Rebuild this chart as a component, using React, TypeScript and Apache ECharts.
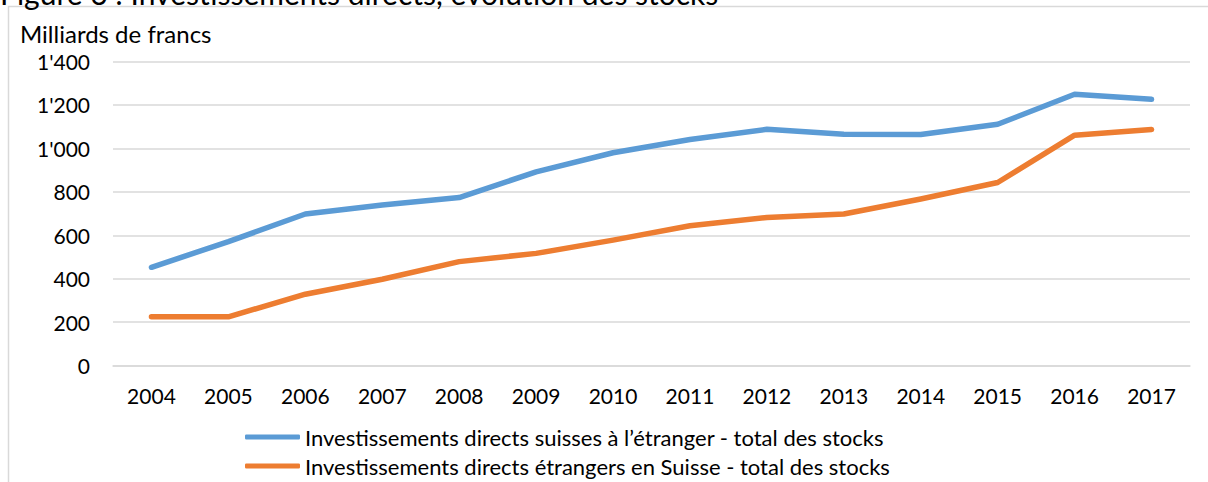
import React, { useEffect, useRef } from "react";
import * as echarts from "echarts";

const years = ["2004", "2005", "2006", "2007", "2008", "2009", "2010", "2011", "2012", "2013", "2014", "2015", "2016", "2017"];
const suissesEtranger = [453, 571, 698, 740, 774, 892, 980, 1041, 1088, 1065, 1064, 1111, 1249, 1226];
const etrangersSuisse = [225, 225, 329, 398, 479, 517, 578, 644, 682, 698, 767, 843, 1061, 1087];
const seriesNames = [
  "Investissements directs suisses à l’étranger - total des stocks",
  "Investissements directs étrangers en Suisse - total des stocks",
];
const seriesColors = ["#5B9BD5", "#ED7D31"];
const unitLabel = "Milliards de francs";
const figureTitle = "Figure 6 : Investissements directs, évolution des stocks";

const FONT = "Lato, 'Open Sans', sans-serif";

export default function App() {
  const ref = useRef<HTMLDivElement>(null);
  useEffect(() => {
    if (!ref.current) return;
    const chart = echarts.init(ref.current, null, { renderer: "svg" });
    const legendBase = {
      orient: "horizontal",
      left: 245,
      padding: 0,
      itemWidth: 55,
      itemHeight: 5,
      icon: "roundRect",
      textStyle: { color: "#000", fontSize: 22, fontFamily: FONT, padding: [0, 0, 0, 0] },
    };
    chart.setOption({
      animation: false,
      backgroundColor: "#ffffff",
      textStyle: { fontFamily: FONT },
      grid: { left: 113, right: 18, top: 61.5, bottom: 116.3, containLabel: false },
      xAxis: {
        type: "category",
        data: years,
        boundaryGap: true,
        axisLine: { show: true, lineStyle: { color: "#d9d9d9", width: 1.5 } },
        axisTick: { show: false },
        axisLabel: { color: "#000", fontSize: 21, margin: 19, fontFamily: FONT },
      },
      yAxis: {
        type: "value",
        min: 0,
        max: 1400,
        interval: 200,
        axisLine: { show: false },
        axisTick: { show: false },
        splitLine: { lineStyle: { color: "#d9d9d9", width: 1.5 } },
        axisLabel: {
          color: "#000",
          fontSize: 21,
          margin: 23,
          fontFamily: FONT,
          formatter: (v: number) => {
            const s = String(v);
            return s.length > 3 ? s.slice(0, s.length - 3) + "'" + s.slice(-3) : s;
          },
        },
      },
      legend: [
        { ...legendBase, top: 426, data: [seriesNames[0]] },
        { ...legendBase, top: 455, data: [seriesNames[1]] },
      ],
      series: [
        {
          name: seriesNames[0],
          type: "line",
          data: suissesEtranger,
          symbol: "none",
          color: seriesColors[0],
          lineStyle: { width: 5.5, color: seriesColors[0], cap: "round", join: "round" },
        },
        {
          name: seriesNames[1],
          type: "line",
          data: etrangersSuisse,
          symbol: "none",
          color: seriesColors[1],
          lineStyle: { width: 5.5, color: seriesColors[1], cap: "round", join: "round" },
        },
      ],
      graphic: [
        {
          type: "rect",
          shape: { x: 8.5, y: 6.5, width: 1400, height: 700 },
          style: { fill: "none", stroke: "#d9d9d9", lineWidth: 1.5 },
          silent: true,
        },
        {
          type: "text",
          x: 0,
          y: -7,
          style: { text: figureTitle, font: `30px ${FONT}`, fill: "#000", verticalAlign: "middle" },
          silent: true,
        },
        {
          type: "text",
          x: 20,
          y: 33,
          style: { text: unitLabel, font: `24px ${FONT}`, fill: "#000", verticalAlign: "middle" },
          silent: true,
        },
      ],
    });
    return () => chart.dispose();
  }, []);
  return <div ref={ref} style={{ position: "fixed", left: 0, top: 0, width: 1208, height: 482 }} />;
}
